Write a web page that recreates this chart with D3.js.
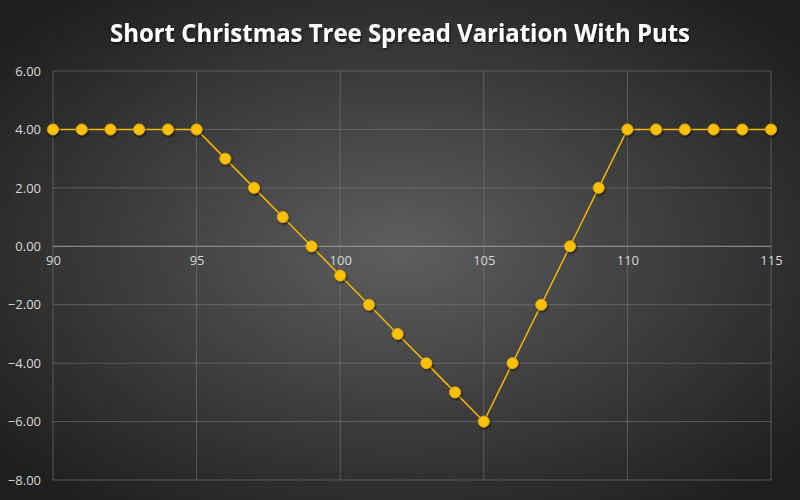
<!DOCTYPE html>
<html>
<head>
<meta charset="utf-8">
<script src="https://cdn.jsdelivr.net/npm/d3@7"></script>
<style>
  html, body { margin: 0; padding: 0; background: #2a2a2a; }
  svg { display: block; }
</style>
</head>
<body>
<svg id="chart" width="800" height="500"></svg>
<script>
const title = "Short Christmas Tree Spread Variation With Puts";
const strikes = [90, 91, 92, 93, 94, 95, 96, 97, 98, 99, 100, 101, 102, 103, 104, 105, 106, 107, 108, 109, 110, 111, 112, 113, 114, 115];
const payoff = [4, 4, 4, 4, 4, 4, 3, 2, 1, 0, -1, -2, -3, -4, -5, -6, -4, -2, 0, 2, 4, 4, 4, 4, 4, 4];
const xTicks = [90, 95, 100, 105, 110, 115];
const yTicks = [-8, -6, -4, -2, 0, 2, 4, 6];

const svg = d3.select("#chart");
const width = +svg.attr("width");
const height = +svg.attr("height");
const margin = { top: 71, right: 29, bottom: 20, left: 53 };

// background gradient
const defs = svg.append("defs");
const grad = defs.append("radialGradient")
  .attr("id", "bg")
  .attr("cx", "50%").attr("cy", "50%").attr("r", "65%");
grad.append("stop").attr("offset", "0%").attr("stop-color", "#5e5e5e");
grad.append("stop").attr("offset", "100%").attr("stop-color", "#1e1e1e");

const shadow = defs.append("filter").attr("id", "shadow")
  .attr("x", "-50%").attr("y", "-50%").attr("width", "200%").attr("height", "200%");
shadow.append("feDropShadow")
  .attr("dx", 1).attr("dy", 1.5).attr("stdDeviation", 1.2)
  .attr("flood-color", "#000").attr("flood-opacity", 0.6);

svg.append("rect")
  .attr("width", width).attr("height", height)
  .attr("fill", "url(#bg)");

svg.append("text")
  .attr("x", width / 2)
  .attr("y", 42)
  .attr("text-anchor", "middle")
  .attr("fill", "#ffffff")
  .attr("font-family", "'Open Sans', sans-serif")
  .attr("font-weight", "bold")
  .attr("font-size", 25)
  .attr("textLength", 580)
  .attr("lengthAdjust", "spacingAndGlyphs")
  .attr("filter", "url(#shadow)")
  .text(title);

const x = d3.scaleLinear()
  .domain([90, 115])
  .range([margin.left, width - margin.right]);

const y = d3.scaleLinear()
  .domain([-8, 6])
  .range([height - margin.bottom, margin.top]);

// gridlines
svg.append("g")
  .selectAll("line")
  .data(yTicks)
  .join("line")
  .attr("x1", x(90)).attr("x2", x(115))
  .attr("y1", d => y(d)).attr("y2", d => y(d))
  .attr("stroke", d => d === 0 ? "#a8a8a8" : "#7a7a7a")
  .attr("stroke-opacity", d => d === 0 ? 0.9 : 0.6)
  .attr("stroke-width", 1);

svg.append("g")
  .selectAll("line")
  .data(xTicks)
  .join("line")
  .attr("x1", d => x(d)).attr("x2", d => x(d))
  .attr("y1", y(6)).attr("y2", y(-8))
  .attr("stroke", "#7a7a7a")
  .attr("stroke-opacity", 0.6)
  .attr("stroke-width", 1);

// y axis labels
const yAxis = d3.axisLeft(y)
  .tickValues(yTicks)
  .tickFormat(d3.format(".2f"))
  .tickSize(0)
  .tickPadding(12);

svg.append("g")
  .attr("transform", `translate(${margin.left},0)`)
  .call(yAxis)
  .call(g => g.select(".domain").remove())
  .call(g => g.selectAll("text")
    .attr("fill", "#d9d9d9")
    .attr("font-family", "'Liberation Sans Narrow', 'Open Sans', sans-serif")
    .attr("font-size", 13));

// x axis labels sit below the zero line
const xAxis = d3.axisBottom(x)
  .tickValues(xTicks)
  .tickSize(0)
  .tickPadding(9);

svg.append("g")
  .attr("transform", `translate(0,${y(0)})`)
  .call(xAxis)
  .call(g => g.select(".domain").remove())
  .call(g => g.selectAll("text")
    .attr("fill", "#d9d9d9")
    .attr("font-family", "'Liberation Sans Narrow', 'Open Sans', sans-serif")
    .attr("font-size", 13));

const points = strikes.map((s, i) => ({ s, v: payoff[i] }));

const line = d3.line()
  .x(d => x(d.s))
  .y(d => y(d.v));

svg.append("path")
  .datum(points)
  .attr("fill", "none")
  .attr("stroke", "#f2b700")
  .attr("stroke-width", 1.5)
  .attr("d", line);

svg.append("g")
  .selectAll("circle")
  .data(points)
  .join("circle")
  .attr("cx", d => x(d.s))
  .attr("cy", d => y(d.v))
  .attr("r", 5.5)
  .attr("fill", "#ffc000")
  .attr("stroke", "#e0a800")
  .attr("stroke-width", 1)
  .attr("filter", "url(#shadow)");
</script>
</body>
</html>
